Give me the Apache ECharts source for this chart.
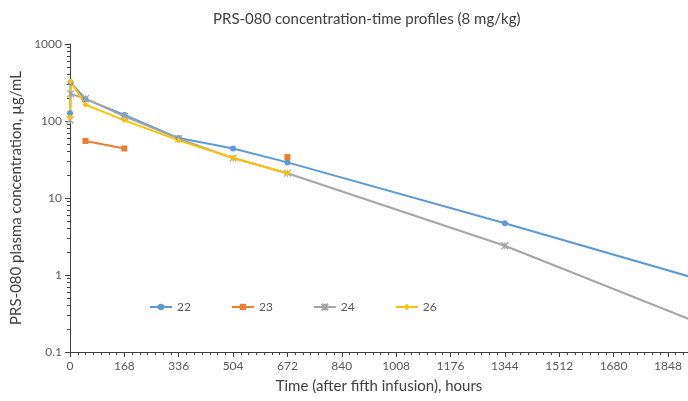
<!DOCTYPE html>
<html>
<head>
<meta charset="utf-8">
<script src="https://cdn.jsdelivr.net/npm/echarts@6.0.0/dist/echarts.min.js"></script>
<style>
  html, body { margin: 0; padding: 0; background: #fff; }
  #chart { width: 688px; height: 401px; }
</style>
</head>
<body>
<div id="chart"></div>
<script>
// hours after fifth infusion, concentrations in ug/mL
const seriesNames = ['22', '23', '24', '26'];
const times22 = [0, 2, 48, 168, 336, 504, 672, 1344, 2016];
const conc22 = [126, 318, 192, 120, 60, 44, 29, 4.7, 0.72];
const times23 = [48, 168, 336, 504, 672];
const conc23 = [55, 44, null, null, 34];
const times24 = [0, 2, 48, 168, 336, 504, 672, 1344, 2016];
const conc24 = [103, 225, 195, 115, 59, 33, 21, 2.4, 0.18];
const times26 = [0, 2, 48, 168, 336, 504, 672];
const conc26 = [112, 325, 163, 102, 56, 33, 21];

const yDecades = [0.1, 1, 10, 100, 1000];

const colors = ['#5B9BD5', '#ED7D31', '#A5A5A5', '#FFC000'];
const font = 'Lato';

// log minor ticks 2..9 in each decade
const yMinor = [];
yDecades.slice(0, -1).forEach((d) => {
  for (let k = 2; k <= 9; k++) yMinor.push(+(d * k).toPrecision(3));
});

const pairs = (t, v) => t.map((x, i) => [x, v[i]]);
const starPath = 'path://M0,0L10,10M10,0L0,10M5,0L5,10';

const series = [
  { name: '22', data: pairs(times22, conc22), symbol: 'circle', symbolSize: 6 },
  { name: '23', data: pairs(times23, conc23), symbol: 'rect', symbolSize: 6 },
  { name: '24', data: pairs(times24, conc24), symbol: starPath, symbolSize: 7 },
  { name: '26', data: pairs(times26, conc26), symbol: 'diamond', symbolSize: 6 },
].map((s, i) => ({
  ...s,
  type: 'line',
  connectNulls: false,
  lineStyle: { width: 2, color: colors[i] },
  itemStyle: { color: colors[i], borderColor: colors[i], borderWidth: i === 2 ? 1.2 : 0 },
  emphasis: { disabled: true },
}));

const option = {
  animation: false,
  title: {
    text: 'PRS-080 concentration-time profiles (8 mg/kg)',
    left: 208,
    top: 7,
    textStyle: { fontFamily: font, fontSize: 15, fontWeight: 'normal', color: '#404040' },
  },
  legend: {
    data: seriesNames,
    left: 144,
    top: 296,
    itemWidth: 22,
    itemHeight: 8,
    itemGap: 40,
    textStyle: { fontFamily: font, fontSize: 12, color: '#595959' },
  },
  grid: { left: 70, right: 0, top: 44, bottom: 49, containLabel: false },
  xAxis: {
    type: 'value',
    min: 0,
    max: 1910,
    interval: 168,
    name: 'Time (after fifth infusion), hours',
    nameLocation: 'middle',
    nameGap: 27,
    nameTextStyle: { fontFamily: font, fontSize: 15, color: '#404040' },
    axisLine: { lineStyle: { color: '#404040', width: 1 } },
    axisTick: { show: true, length: 5, lineStyle: { color: '#404040' } },
    minorTick: { show: true, splitNumber: 7, length: 3, lineStyle: { color: '#404040' } },
    axisLabel: {
      fontFamily: font, fontSize: 12, color: '#595959', margin: 8, showMaxLabel: false,
      formatter: (v) => String(v),
    },
    splitLine: { show: false },
  },
  yAxis: [
    {
      type: 'log',
      logBase: 10,
      min: 0.1,
      max: 1000,
      name: 'PRS-080 plasma concentration, µg/mL',
      nameLocation: 'middle',
      nameGap: 38,
      nameTextStyle: { fontFamily: font, fontSize: 15, color: '#404040' },
      axisLine: { show: true, lineStyle: { color: '#404040', width: 1 } },
      axisTick: { show: true, length: 5, lineStyle: { color: '#404040' } },
      axisLabel: {
        fontFamily: font, fontSize: 12, color: '#595959', margin: 8,
        formatter: (v) => String(+v.toPrecision(3)),
      },
      splitLine: { show: false },
    },
    {
      type: 'log',
      logBase: 10,
      min: 0.1,
      max: 1000,
      position: 'left',
      axisLine: { show: false },
      axisTick: { show: true, length: 3, customValues: yMinor, lineStyle: { color: '#404040' } },
      axisLabel: { show: false },
      splitLine: { show: false },
    },
  ],
  series,
};

const chart = echarts.init(document.getElementById('chart'), null, { renderer: 'canvas' });
chart.setOption(option);
</script>
</body>
</html>
